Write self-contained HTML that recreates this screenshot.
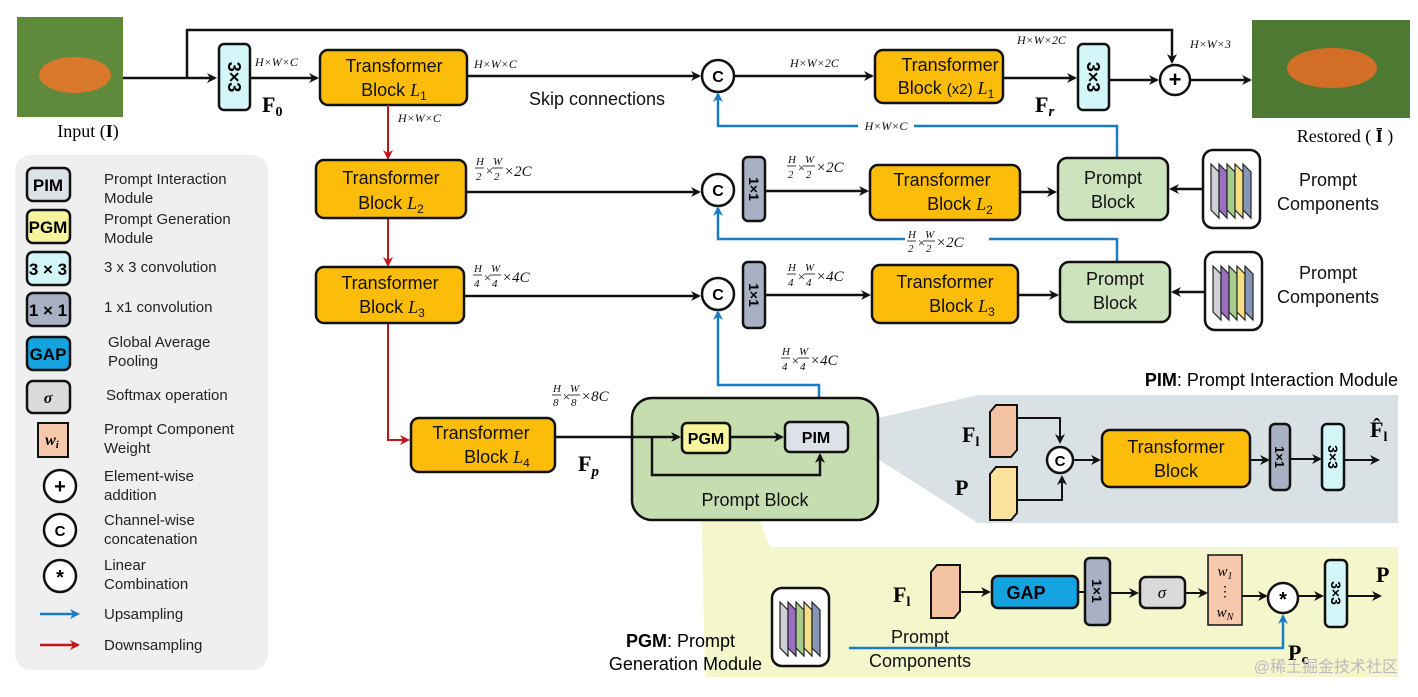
<!DOCTYPE html>
<html><head><meta charset="utf-8"><style>
html,body{margin:0;padding:0;background:#fff;}
svg{display:block;font-family:"Liberation Sans",sans-serif;}
.t{font-size:18px;fill:#111;}
.it{font-family:"Liberation Serif",serif;font-style:italic;}
.sm{font-size:12px;font-family:"Liberation Serif",serif;font-style:italic;fill:#111;}
.lg{font-size:15px;fill:#222;}
.b{stroke:#111;stroke-width:2.5;}
.fb{stroke:#111;stroke-width:0.8;}
</style></head><body>
<svg width="1418" height="697" viewBox="0 0 1418 697" xmlns="http://www.w3.org/2000/svg">
<defs>
<marker id="ak" markerWidth="10" markerHeight="10" refX="8" refY="5" orient="auto" markerUnits="userSpaceOnUse"><path d="M0,0 L10,5 L0,10 L3,5 z" fill="#111"/></marker>
<marker id="ab" markerWidth="10" markerHeight="10" refX="8" refY="5" orient="auto" markerUnits="userSpaceOnUse"><path d="M0,0 L10,5 L0,10 L3,5 z" fill="#1a7cc4"/></marker>
<marker id="ar" markerWidth="10" markerHeight="10" refX="8" refY="5" orient="auto" markerUnits="userSpaceOnUse"><path d="M0,0 L10,5 L0,10 L3,5 z" fill="#c0161c"/></marker>
<g id="pc">
<rect x="0" y="0" width="57" height="78" rx="10" fill="#fff" stroke="#111" stroke-width="2.5"/>
<path d="M8,14 L16,22 L16,68 L8,60z" fill="#d0d0d8" stroke="#222" stroke-width="1.2"/>
<path d="M16,14 L24,22 L24,68 L16,60z" fill="#9b6fc0" stroke="#222" stroke-width="1.2"/>
<path d="M24,14 L32,22 L32,68 L24,60z" fill="#a6cd8c" stroke="#222" stroke-width="1.2"/>
<path d="M32,14 L40,22 L40,68 L32,60z" fill="#f4df86" stroke="#222" stroke-width="1.2"/>
<path d="M40,14 L48,22 L48,68 L40,60z" fill="#8796b6" stroke="#222" stroke-width="1.2"/>
</g>
</defs>

<!-- panels -->
<polygon points="848,425 978,395 1398,395 1398,523 978,523 848,440" fill="#d9e1e4"/>
<polygon points="700,440 730,440 770,547 1398,547 1398,677 705,677" fill="#f4f6cc"/>
<rect x="15" y="155" width="253" height="515" rx="16" fill="#efefef"/>

<!-- images -->
<rect x="17" y="17" width="106" height="100" fill="#5f8a3c"/>
<ellipse cx="75" cy="75" rx="36" ry="18" fill="#d9782a"/>
<rect x="1252" y="20" width="158" height="98" fill="#4f7a34"/>
<ellipse cx="1332" cy="68" rx="45" ry="20" fill="#d26e26"/>
<text x="88" y="137" text-anchor="middle" style="font-family:'Liberation Serif',serif;font-size:18px">Input (<tspan font-weight="bold">I</tspan>)</text>
<text x="1345" y="142" text-anchor="middle" style="font-family:'Liberation Serif',serif;font-size:18px">Restored ( <tspan font-weight="bold">Ī</tspan> )</text>

<!-- top skip -->
<polyline points="123,78 215,78" fill="none" stroke="#111" stroke-width="2.5" marker-end="url(#ak)"/>
<polyline points="187,78 187,30 1172,30 1172,62" fill="none" stroke="#111" stroke-width="2.5" marker-end="url(#ak)"/>

<!-- 3x3 F0 -->
<rect x="219" y="44" width="31" height="66" rx="5" fill="#d3f6f8" class="b"/>
<text transform="translate(228,77) rotate(90)" text-anchor="middle" font-weight="bold" font-size="18">3×3</text>
<text x="262" y="112" style="font-family:'Liberation Serif',serif;font-weight:bold;font-size:22px">F<tspan font-size="14" dy="4">0</tspan></text>
<text x="255" y="66" class="sm">H×W×C</text>
<line x1="250" y1="78" x2="317" y2="78" stroke="#111" stroke-width="2.5" marker-end="url(#ak)"/>

<!-- TB L1 -->
<rect x="320" y="50" width="147" height="55" rx="8" fill="#fbbd0a" class="b"/>
<text x="394" y="72" text-anchor="middle" class="t">Transformer</text>
<text x="394" y="96" text-anchor="middle" class="t">Block <tspan class="it">L</tspan><tspan font-size="12" dy="4">1</tspan></text>
<text x="474" y="68" class="sm">H×W×C</text>
<line x1="467" y1="76" x2="699" y2="76" stroke="#111" stroke-width="2.5" marker-end="url(#ak)"/>
<text x="597" y="105" text-anchor="middle" class="t">Skip connections</text>
<text x="398" y="122" class="sm" font-size="11">H×W×C</text>

<!-- C top -->
<circle cx="718" cy="76" r="16" fill="#fff" class="b"/><text x="718" y="82" text-anchor="middle" font-weight="bold" font-size="16">C</text>
<line x1="734" y1="76" x2="872" y2="76" stroke="#111" stroke-width="2.5" marker-end="url(#ak)"/>
<text x="790" y="67" class="sm">H×W×2C</text>
<rect x="875" y="50" width="128" height="53" rx="8" fill="#fbbd0a" class="b"/>
<text x="950" y="71" text-anchor="middle" class="t">Transformer</text>
<text x="946" y="94" text-anchor="middle" class="t">Block <tspan font-size="15">(x2)</tspan> <tspan class="it">L</tspan><tspan font-size="12" dy="4">1</tspan></text>
<line x1="1003" y1="78" x2="1075" y2="78" stroke="#111" stroke-width="2.5" marker-end="url(#ak)"/>
<text x="1035" y="112" style="font-family:'Liberation Serif',serif;font-weight:bold;font-size:22px">F<tspan font-size="15" dy="4" font-style="italic">r</tspan></text>
<text x="1017" y="44" class="sm" font-size="11">H×W×2C</text>
<rect x="1078" y="44" width="31" height="66" rx="5" fill="#d3f6f8" class="b"/>
<text transform="translate(1087,77) rotate(90)" text-anchor="middle" font-weight="bold" font-size="18">3×3</text>
<line x1="1109" y1="80" x2="1157" y2="80" stroke="#111" stroke-width="2.5" marker-end="url(#ak)"/>
<circle cx="1175" cy="80" r="15" fill="#fff" class="b"/><text x="1175" y="87" text-anchor="middle" font-weight="bold" font-size="22">+</text>
<line x1="1190" y1="80" x2="1250" y2="80" stroke="#111" stroke-width="2.5" marker-end="url(#ak)"/>
<text x="1190" y="48" class="sm">H×W×3</text>

<!-- blue top -->
<polyline points="1117,158 1117,126 718,126 718,94" fill="none" stroke="#1a7cc4" stroke-width="2.5" marker-end="url(#ab)"/>
<rect x="858" y="118" width="56" height="14" fill="#fff"/>
<text x="886" y="130" text-anchor="middle" class="sm">H×W×C</text>

<!-- red downs -->
<line x1="388" y1="105" x2="388" y2="158" stroke="#c0161c" stroke-width="2" marker-end="url(#ar)"/>
<line x1="388" y1="218" x2="388" y2="265" stroke="#c0161c" stroke-width="2" marker-end="url(#ar)"/>
<polyline points="388,323 388,440 408,440" fill="none" stroke="#c0161c" stroke-width="2" marker-end="url(#ar)"/>

<!-- row 2 -->
<rect x="316" y="160" width="150" height="58" rx="8" fill="#fbbd0a" class="b"/>
<text x="391" y="184" text-anchor="middle" class="t">Transformer</text>
<text x="391" y="209" text-anchor="middle" class="t">Block <tspan class="it">L</tspan><tspan font-size="12" dy="4">2</tspan></text>
<g class="sm"><text x="476" y="165" font-size="11">H</text><line class="fb" x1="475" y1="168" x2="484" y2="168"/><text x="476" y="180" font-size="11">2</text><text x="485" y="175" font-size="13">×</text><text x="493" y="165" font-size="11">W</text><line class="fb" x1="492" y1="168" x2="503" y2="168"/><text x="494" y="180" font-size="11">2</text><text x="504" y="176" font-size="15">×2C</text></g>
<line x1="466" y1="192" x2="699" y2="192" stroke="#111" stroke-width="2.5" marker-end="url(#ak)"/>
<circle cx="718" cy="190" r="16" fill="#fff" class="b"/><text x="718" y="196" text-anchor="middle" font-weight="bold" font-size="16">C</text>
<rect x="743" y="157" width="22" height="64" rx="5" fill="#a8b1c3" class="b"/>
<text transform="translate(749,189) rotate(90)" text-anchor="middle" font-weight="bold" font-size="14">1×1</text>
<g class="sm"><text x="788" y="163" font-size="11">H</text><line class="fb" x1="787" y1="166" x2="796" y2="166"/><text x="788" y="178" font-size="11">2</text><text x="797" y="172" font-size="13">×</text><text x="805" y="163" font-size="11">W</text><line class="fb" x1="804" y1="166" x2="815" y2="166"/><text x="806" y="178" font-size="11">2</text><text x="816" y="172" font-size="15">×2C</text></g>
<line x1="765" y1="191" x2="867" y2="191" stroke="#111" stroke-width="2.5" marker-end="url(#ak)"/>
<rect x="870" y="165" width="150" height="55" rx="8" fill="#fbbd0a" class="b"/>
<text x="942" y="186" text-anchor="middle" class="t">Transformer</text>
<text x="960" y="210" text-anchor="middle" class="t">Block  <tspan class="it">L</tspan><tspan font-size="12" dy="4">2</tspan></text>
<line x1="1020" y1="192" x2="1055" y2="192" stroke="#111" stroke-width="2.5" marker-end="url(#ak)"/>
<rect x="1058" y="158" width="110" height="62" rx="9" fill="#cde3bd" class="b"/>
<text x="1113" y="184" text-anchor="middle" class="t">Prompt</text>
<text x="1113" y="208" text-anchor="middle" class="t">Block</text>
<line x1="1203" y1="189" x2="1171" y2="189" stroke="#111" stroke-width="2.5" marker-end="url(#ak)"/>
<use href="#pc" x="1203" y="150"/>
<text x="1328" y="186" text-anchor="middle" class="t">Prompt</text>
<text x="1328" y="210" text-anchor="middle" class="t">Components</text>
<polyline points="1117,262 1117,239 718,239 718,208" fill="none" stroke="#1a7cc4" stroke-width="2.5" marker-end="url(#ab)"/>
<rect x="905" y="228" width="84" height="22" fill="#fff"/>
<g class="sm"><text x="908" y="238" font-size="11">H</text><line class="fb" x1="907" y1="241" x2="916" y2="241"/><text x="908" y="252" font-size="11">2</text><text x="917" y="247" font-size="13">×</text><text x="925" y="238" font-size="11">W</text><line class="fb" x1="924" y1="241" x2="935" y2="241"/><text x="926" y="252" font-size="11">2</text><text x="936" y="247" font-size="15">×2C</text></g>

<!-- row 3 -->
<rect x="316" y="267" width="148" height="56" rx="8" fill="#fbbd0a" class="b"/>
<text x="390" y="289" text-anchor="middle" class="t">Transformer</text>
<text x="392" y="313" text-anchor="middle" class="t">Block <tspan class="it">L</tspan><tspan font-size="12" dy="4">3</tspan></text>
<g class="sm"><text x="474" y="272" font-size="11">H</text><line class="fb" x1="473" y1="275" x2="482" y2="275"/><text x="474" y="287" font-size="11">4</text><text x="483" y="282" font-size="13">×</text><text x="491" y="272" font-size="11">W</text><line class="fb" x1="490" y1="275" x2="501" y2="275"/><text x="492" y="287" font-size="11">4</text><text x="502" y="282" font-size="15">×4C</text></g>
<line x1="464" y1="296" x2="699" y2="296" stroke="#111" stroke-width="2.5" marker-end="url(#ak)"/>
<circle cx="718" cy="294" r="16" fill="#fff" class="b"/><text x="718" y="300" text-anchor="middle" font-weight="bold" font-size="16">C</text>
<rect x="743" y="262" width="22" height="66" rx="5" fill="#a8b1c3" class="b"/>
<text transform="translate(749,295) rotate(90)" text-anchor="middle" font-weight="bold" font-size="14">1×1</text>
<g class="sm"><text x="788" y="271" font-size="11">H</text><line class="fb" x1="787" y1="274" x2="796" y2="274"/><text x="788" y="286" font-size="11">4</text><text x="797" y="281" font-size="13">×</text><text x="805" y="271" font-size="11">W</text><line class="fb" x1="804" y1="274" x2="815" y2="274"/><text x="806" y="286" font-size="11">4</text><text x="816" y="281" font-size="15">×4C</text></g>
<line x1="765" y1="295" x2="869" y2="295" stroke="#111" stroke-width="2.5" marker-end="url(#ak)"/>
<rect x="872" y="265" width="146" height="58" rx="8" fill="#fbbd0a" class="b"/>
<text x="945" y="288" text-anchor="middle" class="t">Transformer</text>
<text x="962" y="312" text-anchor="middle" class="t">Block  <tspan class="it">L</tspan><tspan font-size="12" dy="4">3</tspan></text>
<line x1="1018" y1="295" x2="1057" y2="295" stroke="#111" stroke-width="2.5" marker-end="url(#ak)"/>
<rect x="1060" y="262" width="110" height="60" rx="9" fill="#cde3bd" class="b"/>
<text x="1115" y="285" text-anchor="middle" class="t">Prompt</text>
<text x="1115" y="309" text-anchor="middle" class="t">Block</text>
<line x1="1205" y1="292" x2="1173" y2="292" stroke="#111" stroke-width="2.5" marker-end="url(#ak)"/>
<use href="#pc" x="1205" y="252"/>
<text x="1328" y="279" text-anchor="middle" class="t">Prompt</text>
<text x="1328" y="303" text-anchor="middle" class="t">Components</text>

<!-- blue from PIM -->
<polyline points="819,422 819,385 718,385 718,312" fill="none" stroke="#1a7cc4" stroke-width="2.5" marker-end="url(#ab)"/>
<g class="sm"><text x="782" y="355" font-size="11">H</text><line class="fb" x1="781" y1="358" x2="790" y2="358"/><text x="782" y="370" font-size="11">4</text><text x="791" y="365" font-size="13">×</text><text x="799" y="355" font-size="11">W</text><line class="fb" x1="798" y1="358" x2="809" y2="358"/><text x="800" y="370" font-size="11">4</text><text x="810" y="365" font-size="15">×4C</text></g>

<!-- row 4 -->
<rect x="411" y="418" width="144" height="54" rx="8" fill="#fbbd0a" class="b"/>
<text x="481" y="439" text-anchor="middle" class="t">Transformer</text>
<text x="497" y="463" text-anchor="middle" class="t">Block  <tspan class="it">L</tspan><tspan font-size="12" dy="4">4</tspan></text>
<g class="sm"><text x="553" y="392" font-size="11">H</text><line class="fb" x1="552" y1="395" x2="561" y2="395"/><text x="553" y="406" font-size="11">8</text><text x="562" y="401" font-size="13">×</text><text x="570" y="392" font-size="11">W</text><line class="fb" x1="569" y1="395" x2="580" y2="395"/><text x="571" y="406" font-size="11">8</text><text x="581" y="401" font-size="15">×8C</text></g>
<text x="578" y="471" style="font-family:'Liberation Serif',serif;font-weight:bold;font-size:22px">F<tspan font-size="15" dy="5" font-style="italic">p</tspan></text>
<rect x="632" y="398" width="246" height="122" rx="20" fill="#c6ddb0" class="b"/>
<line x1="555" y1="437" x2="679" y2="437" stroke="#111" stroke-width="2.5" marker-end="url(#ak)"/>
<polyline points="652,437 652,475 820,475 820,455" fill="none" stroke="#111" stroke-width="2.5" marker-end="url(#ak)"/>
<rect x="682" y="423" width="48" height="30" rx="5" fill="#f6f59e" class="b"/>
<text x="706" y="444" text-anchor="middle" font-weight="bold" font-size="16">PGM</text>
<line x1="730" y1="437" x2="782" y2="437" stroke="#111" stroke-width="2.5" marker-end="url(#ak)"/>
<rect x="785" y="422" width="63" height="30" rx="5" fill="#dce2e8" class="b"/>
<text x="816" y="443" text-anchor="middle" font-weight="bold" font-size="16">PIM</text>
<text x="755" y="506" text-anchor="middle" class="t">Prompt Block</text>

<!-- PIM panel -->
<text x="1398" y="386" text-anchor="end" font-size="18"><tspan font-weight="bold">PIM</tspan>: Prompt Interaction Module</text>
<text x="962" y="442" style="font-family:'Liberation Serif',serif;font-weight:bold;font-size:22px">F<tspan font-size="14" dy="4">l</tspan></text>
<text x="955" y="495" style="font-family:'Liberation Serif',serif;font-weight:bold;font-size:22px">P</text>
<path d="M990,412 L996,405 L1017,405 L1017,450 L1011,457 L990,457z" fill="#f4c3a3" stroke="#111" stroke-width="2"/>
<path d="M990,474 L996,467 L1017,467 L1017,513 L1011,520 L990,520z" fill="#fbe29c" stroke="#111" stroke-width="2"/>
<polyline points="1017,418 1060,418 1060,442" fill="none" stroke="#111" stroke-width="2" marker-end="url(#ak)"/>
<polyline points="1017,500 1062,500 1062,477" fill="none" stroke="#111" stroke-width="2" marker-end="url(#ak)"/>
<circle cx="1060" cy="460" r="13" fill="#fff" class="b"/><text x="1060" y="466" text-anchor="middle" font-weight="bold" font-size="15">C</text>
<line x1="1073" y1="460" x2="1099" y2="460" stroke="#111" stroke-width="2" marker-end="url(#ak)"/>
<rect x="1102" y="430" width="148" height="57" rx="8" fill="#fbbd0a" class="b"/>
<text x="1176" y="453" text-anchor="middle" class="t">Transformer</text>
<text x="1176" y="477" text-anchor="middle" class="t">Block</text>
<line x1="1250" y1="460" x2="1268" y2="460" stroke="#111" stroke-width="2" marker-end="url(#ak)"/>
<rect x="1270" y="424" width="20" height="66" rx="5" fill="#a8b1c3" class="b"/>
<text transform="translate(1275,457) rotate(90)" text-anchor="middle" font-weight="bold" font-size="13">1×1</text>
<line x1="1290" y1="459" x2="1320" y2="459" stroke="#111" stroke-width="2" marker-end="url(#ak)"/>
<rect x="1322" y="424" width="22" height="66" rx="5" fill="#d3f6f8" class="b"/>
<text transform="translate(1328,457) rotate(90)" text-anchor="middle" font-weight="bold" font-size="14">3×3</text>
<line x1="1344" y1="460" x2="1378" y2="460" stroke="#111" stroke-width="2" marker-end="url(#ak)"/>
<text x="1370" y="437" style="font-family:'Liberation Serif',serif;font-weight:bold;font-size:22px">F̂<tspan font-size="14" dy="4">l</tspan></text>

<!-- PGM panel -->
<text x="735" y="647" text-anchor="end" font-size="18"><tspan font-weight="bold">PGM</tspan>: Prompt</text>
<text x="762" y="670" text-anchor="end" font-size="18">Generation Module</text>
<use href="#pc" x="772" y="588"/>
<text x="920" y="643" text-anchor="middle" class="t">Prompt</text>
<text x="920" y="667" text-anchor="middle" class="t">Components</text>
<polyline points="849,648 1283,648 1283,616" fill="none" stroke="#1a7cc4" stroke-width="2.5" marker-end="url(#ab)"/>
<text x="1288" y="660" style="font-family:'Liberation Serif',serif;font-weight:bold;font-size:22px">P<tspan font-size="15" dy="4">c</tspan></text>
<text x="893" y="602" style="font-family:'Liberation Serif',serif;font-weight:bold;font-size:22px">F<tspan font-size="14" dy="4">l</tspan></text>
<path d="M931,572 L937,565 L960,565 L960,611 L954,618 L931,618z" fill="#f4c3a3" stroke="#111" stroke-width="2"/>
<line x1="960" y1="592" x2="989" y2="592" stroke="#111" stroke-width="2" marker-end="url(#ak)"/>
<rect x="992" y="576" width="86" height="32" rx="6" fill="#14a3e0" class="b"/>
<text x="1026" y="599" text-anchor="middle" font-weight="bold" font-size="18">GAP</text>
<line x1="1078" y1="592" x2="1088" y2="592" stroke="#111" stroke-width="2"/>
<rect x="1085" y="558" width="25" height="67" rx="5" fill="#a8b1c3" class="b"/>
<text transform="translate(1092,591) rotate(90)" text-anchor="middle" font-weight="bold" font-size="14">1×1</text>
<line x1="1110" y1="593" x2="1137" y2="593" stroke="#111" stroke-width="2" marker-end="url(#ak)"/>
<rect x="1140" y="577" width="45" height="31" rx="6" fill="#dadada" class="b"/>
<text x="1162" y="598" text-anchor="middle" class="it" font-size="17">σ</text>
<line x1="1185" y1="593" x2="1206" y2="593" stroke="#111" stroke-width="2" marker-end="url(#ak)"/>
<rect x="1208" y="555" width="34" height="70" fill="#f6c9ad" stroke="#111" stroke-width="1.5"/>
<text x="1225" y="576" text-anchor="middle" class="it" font-size="15">w<tspan font-size="10" dy="3">1</tspan></text>
<text x="1225" y="596" text-anchor="middle" font-size="14">⋮</text>
<text x="1225" y="617" text-anchor="middle" class="it" font-size="15">w<tspan font-size="10" dy="3">N</tspan></text>
<line x1="1242" y1="596" x2="1266" y2="596" stroke="#111" stroke-width="2" marker-end="url(#ak)"/>
<circle cx="1283" cy="598" r="15" fill="#fff" class="b"/><text x="1283" y="606" text-anchor="middle" font-weight="bold" font-size="20">*</text>
<line x1="1298" y1="596" x2="1322" y2="596" stroke="#111" stroke-width="2" marker-end="url(#ak)"/>
<rect x="1325" y="560" width="22" height="67" rx="5" fill="#d3f6f8" class="b"/>
<text transform="translate(1331,593) rotate(90)" text-anchor="middle" font-weight="bold" font-size="14">3×3</text>
<line x1="1347" y1="596" x2="1380" y2="596" stroke="#111" stroke-width="2" marker-end="url(#ak)"/>
<text x="1376" y="582" style="font-family:'Liberation Serif',serif;font-weight:bold;font-size:22px">P</text>
<text x="1398" y="672" text-anchor="end" font-size="16" fill="#bbb" style="font-family:'Liberation Sans','Noto Sans CJK SC',sans-serif">@稀土掘金技术社区</text>

<!-- legend -->
<rect x="27" y="168" width="43" height="33" rx="6" fill="#dce2e8" class="b"/><text x="48" y="191" text-anchor="middle" font-weight="bold" font-size="17">PIM</text>
<text x="104" y="184" class="lg">Prompt Interaction</text><text x="104" y="203" class="lg">Module</text>
<rect x="27" y="210" width="43" height="33" rx="6" fill="#f6f59e" class="b"/><text x="48" y="233" text-anchor="middle" font-weight="bold" font-size="17">PGM</text>
<text x="104" y="224" class="lg">Prompt Generation</text><text x="104" y="243" class="lg">Module</text>
<rect x="27" y="252" width="43" height="33" rx="6" fill="#d3f6f8" class="b"/><text x="48" y="275" text-anchor="middle" font-weight="bold" font-size="17">3 × 3</text>
<text x="104" y="272" class="lg">3 x 3 convolution</text>
<rect x="27" y="293" width="43" height="33" rx="6" fill="#a8b1c3" class="b"/><text x="48" y="316" text-anchor="middle" font-weight="bold" font-size="17">1 × 1</text>
<text x="104" y="312" class="lg">1 x1 convolution</text>
<rect x="27" y="337" width="43" height="33" rx="6" fill="#14a3e0" class="b"/><text x="48" y="360" text-anchor="middle" font-weight="bold" font-size="17">GAP</text>
<text x="108" y="347" class="lg">Global Average</text><text x="108" y="366" class="lg">Pooling</text>
<rect x="27" y="381" width="43" height="32" rx="6" fill="#dadada" class="b"/><text x="48" y="403" text-anchor="middle" class="it" font-weight="bold" font-size="16">σ</text>
<text x="106" y="400" class="lg">Softmax operation</text>
<rect x="38" y="423" width="30" height="34" fill="#f6c9ad" stroke="#111" stroke-width="2"/><text x="52" y="445" text-anchor="middle" class="it" font-weight="bold" font-size="16">w<tspan font-size="11" dy="3">i</tspan></text>
<text x="104" y="434" class="lg">Prompt Component</text><text x="104" y="453" class="lg">Weight</text>
<circle cx="60" cy="486" r="16" fill="#fff" class="b"/><text x="60" y="493" text-anchor="middle" font-weight="bold" font-size="20">+</text>
<text x="104" y="481" class="lg">Element-wise</text><text x="104" y="500" class="lg">addition</text>
<circle cx="60" cy="530" r="16" fill="#fff" class="b"/><text x="60" y="536" text-anchor="middle" font-weight="bold" font-size="15">C</text>
<text x="104" y="525" class="lg">Channel-wise</text><text x="104" y="544" class="lg">concatenation</text>
<circle cx="60" cy="576" r="16" fill="#fff" class="b"/><text x="60" y="584" text-anchor="middle" font-weight="bold" font-size="20">*</text>
<text x="104" y="570" class="lg">Linear</text><text x="104" y="589" class="lg">Combination</text>
<line x1="40" y1="614" x2="78" y2="614" stroke="#1a7cc4" stroke-width="2.5" marker-end="url(#ab)"/>
<text x="104" y="619" class="lg">Upsampling</text>
<line x1="40" y1="645" x2="78" y2="645" stroke="#c0161c" stroke-width="2.5" marker-end="url(#ar)"/>
<text x="104" y="650" class="lg">Downsampling</text>
</svg>
</body></html>
